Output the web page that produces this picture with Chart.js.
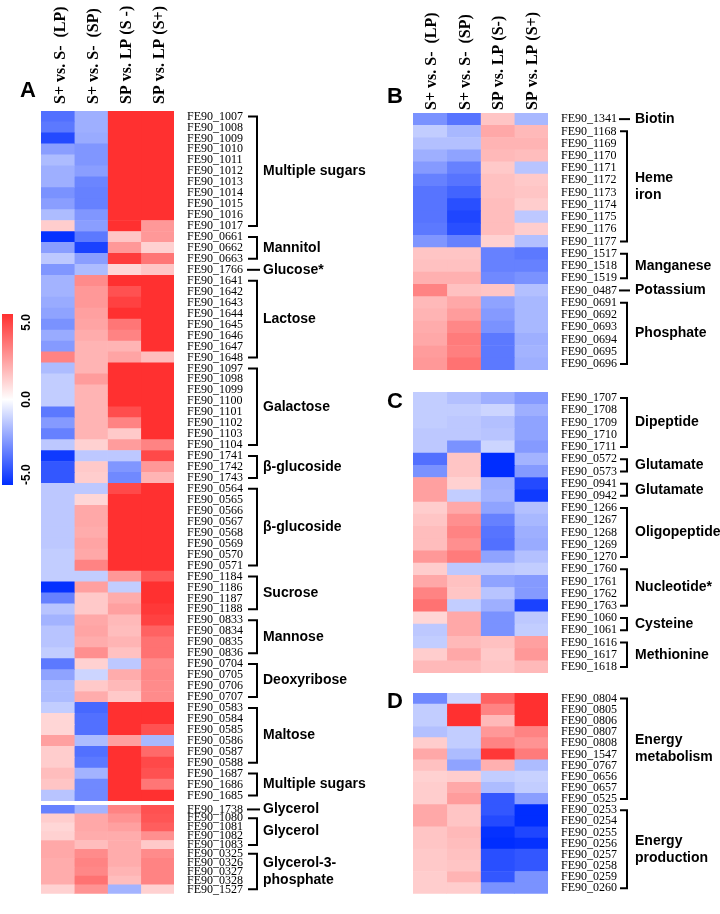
<!DOCTYPE html>
<html><head><meta charset="utf-8">
<script src="https://cdn.jsdelivr.net/npm/chart.js@4.4.1/dist/chart.umd.min.js"></script>
<style>
html,body{margin:0;padding:0;background:#fff;width:720px;height:914px;overflow:hidden;}
canvas{position:absolute;left:0;top:0;}
</style></head><body>
<canvas id="cbar" width="720" height="914"></canvas>
<canvas id="cA1" width="720" height="914"></canvas>
<canvas id="cA2" width="720" height="914"></canvas>
<canvas id="cB" width="720" height="914"></canvas>
<canvas id="cC" width="720" height="914"></canvas>
<canvas id="cD" width="720" height="914"></canvas>
<script>
// ---------- DATA ----------
const colHeadersA = ['S+ vs. S-  (LP)', 'S+ vs. S-  (SP)', 'SP vs. LP (S -)', 'SP vs. LP (S+)'];
const colHeadersB = ['S+ vs. S-  (LP)', 'S+ vs. S-  (SP)', 'SP vs. LP (S-)', 'SP vs. LP (S+)'];
const colorbarTicks = [5, 0, -5];

const rowsA1 = ['FE90_1007','FE90_1008','FE90_1009','FE90_1010','FE90_1011','FE90_1012','FE90_1013','FE90_1014','FE90_1015','FE90_1016','FE90_1017',
 'FE90_0661','FE90_0662','FE90_0663','FE90_1766',
 'FE90_1641','FE90_1642','FE90_1643','FE90_1644','FE90_1645','FE90_1646','FE90_1647','FE90_1648',
 'FE90_1097','FE90_1098','FE90_1099','FE90_1100','FE90_1101','FE90_1102','FE90_1103','FE90_1104',
 'FE90_1741','FE90_1742','FE90_1743',
 'FE90_0564','FE90_0565','FE90_0566','FE90_0567','FE90_0568','FE90_0569','FE90_0570','FE90_0571',
 'FE90_1184','FE90_1186','FE90_1187','FE90_1188',
 'FE90_0833','FE90_0834','FE90_0835','FE90_0836',
 'FE90_0704','FE90_0705','FE90_0706','FE90_0707',
 'FE90_0583','FE90_0584','FE90_0585','FE90_0586','FE90_0587','FE90_0588',
 'FE90_1687','FE90_1686','FE90_1685'];
const groupNamesA1 = ['Multiple sugars','Mannitol','Glucose*','Lactose','Galactose','β-glucoside','β-glucoside','Sucrose','Mannose','Deoxyribose','Maltose','Multiple sugars'];
const groupSizesA1 = [11,3,1,8,8,3,8,4,4,4,6,3];
const a1_LP  = [-3.4,-3.2,-4.3,-2.3,-1.6,-1.9,-1.9,-2.6,-2.3,-1.6,1.2, -4.9,-2.3,-1.3,-2.5,
 -1.8,-1.8,-2.0,-2.2,-2.6,-2.0,-2.4,3.0, -1.6,-1.2,-1.2,-1.2,-3.2,-2.4,-3.0,-1.3,
 -4.7,-4.0,-4.0, -1.3,-1.3,-1.3,-1.3,-1.3,-1.3,-1.2,-1.2, -1.2,-4.9,-3.0,-1.4,
 -1.8,-1.4,-1.4,-1.2, -3.2,-2.2,-1.6,-1.6, -1.2,1.0,1.0,2.3,1.2,1.2, 1.6,1.4,-1.4];
const a1_SP  = [-1.9,-1.9,-2.0,-2.5,-2.5,-2.3,-2.9,-3.0,-3.0,-2.5,-2.3, -3.2,-4.5,-2.3,-1.6,
 2.8,2.5,2.5,2.3,2.2,2.0,1.8,1.8, 1.8,2.4,1.8,1.8,1.8,1.8,1.8,1.1,
 -1.3,1.3,1.2, -1.3,1.0,2.1,2.1,2.0,2.2,2.1,3.0, -1.2,2.3,1.3,1.3,
 2.1,2.2,2.0,2.7, 1.1,-1.0,1.3,2.0, -3.6,-3.4,-3.4,-1.6,-3.4,-3.2, -1.8,-2.8,-2.8];
const a1_Sm  = [5,5,5,5,5,5,5,5,5,5,5, 1.4,2.5,4.7,1.0,
 5,4.2,4.6,5,3.3,3.0,1.8,2.2, 5,5,5,5,4.3,3.0,1.3,2.4,
 -1.3,-2.5,-2.8, 4.4,5,5,5,5,5,5,5, 2.5,-1.2,2.0,2.3,
 1.7,1.6,1.8,1.5, -1.3,2.0,1.7,1.3, 5,5,5,2.3,5,5, 5,5,5];
const a1_Sp  = [5,5,5,5,5,5,5,5,5,5,2.5, 2.5,1.1,3.3,1.4,
 5,5,5,5,5,5,5,1.6, 5,5,5,5,5,5,5,3.0,
 4.4,2.5,1.8, 5,5,5,5,5,5,5,5, 4.0,5,5,4.8,
 4.6,3.8,3.4,3.4, 2.8,2.9,2.8,2.8, 5,5,4.2,-1.7,3.6,4.4, 4.2,3.3,5];

const rowsA2 = ['FE90_1738','FE90_1080','FE90_1081','FE90_1082','FE90_1083','FE90_0325','FE90_0326','FE90_0327','FE90_0328','FE90_1527'];
const groupNamesA2 = ['Glycerol','Glycerol','Glycerol-3-\nphosphate'];
const groupSizesA2 = [1,4,5];
const a2_LP = [-3.0,1.2,1.0,1.1,2.1,2.1,2.0,2.0,2.0,1.1];
const a2_SP = [-1.8,2.1,2.1,2.0,1.6,2.8,3.0,2.9,3.4,2.6];
const a2_Sm = [3.0,2.6,2.3,2.0,2.0,2.0,2.0,1.8,1.6,-1.8];
const a2_Sp = [4.2,4.1,3.9,2.7,1.3,2.8,3.0,3.0,3.0,1.1];

const rowsB = ['FE90_1341','FE90_1168','FE90_1169','FE90_1170','FE90_1171','FE90_1172','FE90_1173','FE90_1174','FE90_1175','FE90_1176','FE90_1177',
 'FE90_1517','FE90_1518','FE90_1519','FE90_0487','FE90_0691','FE90_0692','FE90_0693','FE90_0694','FE90_0695','FE90_0696'];
const groupNamesB = ['Biotin','Heme\niron','Manganese','Potassium','Phosphate'];
const groupSizesB = [1,10,3,1,6];
const b_LP = [-2.6,-1.2,-1.5,-1.9,-2.4,-3.0,-3.3,-3.3,-3.3,-3.2,-2.5,1.4,1.5,1.9,3.0,1.7,1.8,2.0,2.1,2.4,2.5];
const b_SP = [-3.3,-1.7,-1.5,-2.2,-3.0,-3.3,-3.7,-4.2,-4.4,-4.2,-3.0,1.4,1.5,1.9,1.5,2.1,2.4,2.9,3.2,3.1,3.4];
const b_Sm = [1.4,2.1,1.8,1.7,1.3,1.5,1.5,1.6,1.6,1.6,1.1,-3.0,-3.0,-2.8,1.4,-2.2,-2.4,-2.6,-3.2,-3.2,-3.2];
const b_Sp = [-1.7,1.7,1.8,1.6,-1.4,1.3,1.4,1.2,-1.3,1.2,-1.5,-3.2,-3.0,-2.6,-1.5,-1.7,-1.7,-1.7,-1.9,-1.8,-1.9];

const rowsC = ['FE90_1707','FE90_1708','FE90_1709','FE90_1710','FE90_1711','FE90_0572','FE90_0573','FE90_0941','FE90_0942',
 'FE90_1266','FE90_1267','FE90_1268','FE90_1269','FE90_1270','FE90_1760','FE90_1761','FE90_1762','FE90_1763',
 'FE90_1060','FE90_1061','FE90_1616','FE90_1617','FE90_1618'];
const groupNamesC = ['Dipeptide','Glutamate','Glutamate','Oligopeptide','Nucleotide*','Cysteine','Methionine'];
const groupSizesC = [5,2,2,5,4,2,3];
const c_LP = [-1.2,-1.2,-1.2,-1.3,-1.3,-3.4,-2.6,2.3,2.3,1.2,1.4,1.6,1.6,2.5,1.2,2.1,3.0,3.4,1.0,-1.3,-1.2,1.2,1.7];
const c_SP = [-1.5,-1.2,-1.3,-1.3,-2.6,1.4,1.4,1.1,-1.2,2.1,2.7,3.0,2.7,3.2,-1.3,1.5,1.4,-1.2,2.1,2.1,1.7,2.1,1.7];
const c_Sm = [-1.9,-1.0,-1.5,-1.4,-1.0,-5,-5,-1.9,-1.8,-2.2,-3.0,-3.3,-3.4,-2.2,-1.3,-2.2,-1.4,-1.9,-2.6,-2.6,1.5,1.3,1.4];
const c_Sp = [-2.4,-1.9,-2.2,-2.2,-2.4,-1.8,-2.4,-4.3,-4.7,-1.5,-1.7,-1.9,-2.0,-1.5,-1.2,-2.4,-2.4,-4.5,-1.3,-1.2,2.3,2.5,1.7];

const rowsD = ['FE90_0804','FE90_0805','FE90_0806','FE90_0807','FE90_0808','FE90_1547','FE90_0767','FE90_0656','FE90_0657','FE90_0525',
 'FE90_0253','FE90_0254','FE90_0255','FE90_0256','FE90_0257','FE90_0258','FE90_0259','FE90_0260'];
const groupNamesD = ['Energy\nmetabolism','Energy\nproduction'];
const groupSizesD = [10,8];
const d_LP = [-2.8,-1.2,-1.2,-1.5,1.2,2.1,1.5,1.1,1.2,1.2,2.1,2.1,1.4,1.4,1.3,1.3,1.2,1.2];
const d_SP = [-1.0,5,5,-1.2,-1.2,-1.6,-2.2,1.2,2.1,2.4,1.4,1.4,1.7,1.6,1.5,1.4,1.8,1.2];
const d_Sm = [3.8,3.0,1.7,2.5,3.0,4.8,1.9,-1.2,-1.6,-4.0,-4.0,-4.3,-4.9,-5,-4.2,-4.2,-4.0,-2.6];
const d_Sp = [5,5,5,3.0,2.6,3.2,-1.6,-1.1,-1.2,-2.3,-5,-5,-4.4,-4.9,-4.0,-4.0,-2.6,-2.6];

// ---------- RENDER ----------
const SERIF = '"Liberation Serif", "Times New Roman", serif';
const SANS = '"Liberation Sans", Arial, sans-serif';
Chart.defaults.color = '#000';
const W = 720, H = 914;

function colorFor(v) {
  const t = Math.min(Math.abs(v) / 5, 1);
  if (v >= 0) { const g = Math.round(255 - t * (255 - 48)); return `rgb(255,${g},${g})`; }
  const r = Math.round(255 - t * 255), g = Math.round(255 - t * (255 - 45));
  return `rgb(${r},${g},255)`;
}

function bracketPlugin(names, sizes, geo) {
  return {
    id: 'brackets',
    afterDraw(chart) {
      const {ctx, chartArea, scales} = chart;
      const y = scales.y;
      ctx.save();
      ctx.strokeStyle = '#000'; ctx.fillStyle = '#000'; ctx.lineWidth = 2;
      ctx.font = `bold 14px ${SANS}`;
      ctx.textBaseline = 'middle'; ctx.textAlign = 'left';
      const xv = chartArea.right + geo.bracketX;
      let start = 0;
      sizes.forEach((n, gi) => {
        const y0 = y.getPixelForValue(start), y1 = y.getPixelForValue(start + n - 1);
        ctx.beginPath();
        if (n === 1) {
          ctx.moveTo(xv - geo.tick - 1, y0); ctx.lineTo(xv + 3, y0);
        } else {
          ctx.moveTo(xv - geo.tick, y0); ctx.lineTo(xv, y0); ctx.lineTo(xv, y1); ctx.lineTo(xv - geo.tick, y1);
        }
        ctx.stroke();
        const lines = names[gi].split('\n');
        const mid = (y0 + y1) / 2;
        lines.forEach((t, i) => ctx.fillText(t, chartArea.right + geo.textX, mid + (i - (lines.length - 1) / 2) * 17));
        start += n;
      });
      if (geo.letter) {
        ctx.font = `bold 22px ${SANS}`;
        ctx.textAlign = 'center';
        ctx.fillText(geo.letter, geo.letterX, geo.letterY);
      }
      ctx.restore();
    }
  };
}

function heatmap(id, rows, cols, headers, names, sizes, geo) {
  const scales = {
    x: { type: 'linear', stacked: true, min: 0, max: 4, display: false },
    y: { type: 'category', stacked: true, position: 'right', offset: true,
      grid: { display: false, drawTicks: false }, border: { display: false },
      ticks: { autoSkip: false, padding: geo.labelPad, color: '#000', font: { family: SERIF, size: 12 } },
      afterFit(s) { s.width = geo.yWidth; } }
  };
  if (headers) {
    scales.xTop = { type: 'category', axis: 'x', position: 'top', labels: headers, offset: true,
      grid: { display: false, drawTicks: false }, border: { display: false },
      ticks: { minRotation: 90, maxRotation: 90, padding: geo.headPad, labelOffset: geo.headOffset, color: '#000', font: { family: SERIF, size: 16, weight: 'bold' } },
      afterFit(s) { s.height = geo.top; } };
  }
  return new Chart(document.getElementById(id), {
    type: 'bar',
    data: {
      labels: rows,
      datasets: cols.map(vals => ({
        data: vals.map(() => 1),
        backgroundColor: vals.map(colorFor),
        borderWidth: 0, barPercentage: 1, categoryPercentage: 1,
        xAxisID: 'x', yAxisID: 'y'
      }))
    },
    options: {
      indexAxis: 'y', responsive: false, animation: false,
      layout: { padding: { left: geo.left, right: W - geo.right - geo.yWidth, top: headers ? 0 : geo.top, bottom: H - geo.bottom } },
      plugins: { legend: { display: false }, tooltip: { enabled: false } },
      scales
    },
    plugins: [bracketPlugin(names, sizes, geo)]
  });
}

const geoA = { left: 41, right: 174, yWidth: 200, labelPad: 13, headPad: 7, headOffset: 22, bracketX: 83, tick: 9, textX: 89 };
const geoR = { left: 413, right: 548, yWidth: 165, labelPad: 13, headPad: 3, headOffset: 21, bracketX: 79, tick: 7, textX: 87 };

heatmap('cA1', rowsA1, [a1_LP, a1_SP, a1_Sm, a1_Sp], colHeadersA, groupNamesA1, groupSizesA1,
  Object.assign({}, geoA, { top: 111, bottom: 801, letter: 'A', letterX: 28, letterY: 91 }));
heatmap('cA2', rowsA2, [a2_LP, a2_SP, a2_Sm, a2_Sp], null, groupNamesA2, groupSizesA2,
  Object.assign({}, geoA, { top: 805, bottom: 911 }));
heatmap('cB', rowsB, [b_LP, b_SP, b_Sm, b_Sp], colHeadersB, groupNamesB, groupSizesB,
  Object.assign({}, geoR, { top: 113, bottom: 370, letter: 'B', letterX: 395, letterY: 97 }));
heatmap('cC', rowsC, [c_LP, c_SP, c_Sm, c_Sp], null, groupNamesC, groupSizesC,
  Object.assign({}, geoR, { top: 392, bottom: 673, letter: 'C', letterX: 395, letterY: 402 }));
heatmap('cD', rowsD, [d_LP, d_SP, d_Sm, d_Sp], null, groupNamesD, groupSizesD,
  Object.assign({}, geoR, { top: 693, bottom: 908, letter: 'D', letterX: 395, letterY: 702 }));

// colour bar
new Chart(document.getElementById('cbar'), {
  type: 'bar',
  data: { labels: [''], datasets: [{
    data: [[colorbarTicks[2], colorbarTicks[0]]],
    borderWidth: 0, barPercentage: 1, categoryPercentage: 1,
    backgroundColor(c) {
      const chart = c.chart; const ys = chart.scales.y;
      if (!chart.chartArea || !ys) return '#fff';
      const g = chart.ctx.createLinearGradient(0, ys.getPixelForValue(5), 0, ys.getPixelForValue(-5));
      g.addColorStop(0, colorFor(5)); g.addColorStop(0.5, colorFor(0)); g.addColorStop(1, colorFor(-5));
      return g;
    }
  }] },
  options: {
    responsive: false, animation: false,
    layout: { padding: { left: 2, right: W - 13, top: 314, bottom: H - 485 } },
    plugins: { legend: { display: false }, tooltip: { enabled: false } },
    scales: { x: { display: false }, y: { display: false, min: -5, max: 5 } }
  },
  plugins: [{
    id: 'cbLabels',
    afterDraw(chart) {
      const {ctx, chartArea, scales} = chart;
      ctx.save();
      ctx.fillStyle = '#000'; ctx.font = `bold 12px ${SANS}`; ctx.textBaseline = 'middle';
      colorbarTicks.forEach(v => {
        ctx.save();
        ctx.translate(chartArea.right + 14, scales.y.getPixelForValue(v));
        ctx.rotate(-Math.PI / 2);
        ctx.textAlign = v > 0 ? 'right' : (v < 0 ? 'left' : 'center');
        ctx.fillText(v.toFixed(1), 0, 0);
        ctx.restore();
      });
      ctx.restore();
    }
  }]
});
</script></body></html>
